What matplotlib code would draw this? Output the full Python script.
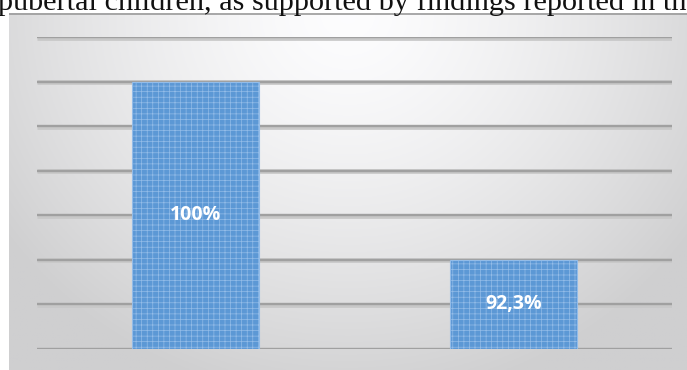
import numpy as np
import matplotlib
matplotlib.use('Agg')
import matplotlib.pyplot as plt

# datos del grafico
categorias = ['A', 'B']
valores = [100, 92.3]
etiquetas = ['100%', '92,3%']
texto_arriba = 'pubertal children, as supported by findings reported in th'

plt.rcParams['hatch.linewidth'] = 0.5

fig = plt.figure(figsize=(6.87, 3.70), dpi=100)
fig.patch.set_facecolor('white')

# texto del documento cortado arriba
fig.text(-0.003, 1 - 10 / 370, texto_arriba, family='Liberation Serif',
         fontsize=21.8, color='#111111', ha='left', va='baseline')

# fondo con degradado radial
bg = fig.add_axes([9 / 687, 0, 1 - 9 / 687, (370 - 13) / 370])
ny, nx = 200, 400
xx, yy = np.meshgrid(np.linspace(0, 1, nx), np.linspace(0, 1, ny))
r = np.sqrt(((xx - 0.5) / 0.62) ** 2 + (yy / 1.1) ** 2)
r = np.clip(r, 0, 1)
val = (253 - (253 - 207) * r ** 1.4) / 255
img = np.dstack([val, val, val * 1.005])
img = np.clip(img, 0, 1)
bg.imshow(img, aspect='auto', extent=[0, 1, 1, 0])
bg.set_xlim(0, 1)
bg.set_ylim(1, 0)
bg.axis('off')
bg.add_line(plt.Line2D([0, 1], [0.002, 0.002], color='#9a9a9a', lw=1.2))

# area del grafico
ax = fig.add_axes([37 / 687, 21 / 370, 635 / 687, 312 / 370])
ax.patch.set_alpha(0)

paso = (valores[0] - valores[1]) / 4
base = valores[1] - 2 * paso
ax.set_ylim(base, base + 7 * paso)
ax.set_xlim(-0.5, len(categorias) - 0.5)
ticks = [base + i * paso for i in range(8)]
for t in ticks:
    ax.axhline(t - paso * 0.012, color='#c8c8c8', lw=3.4, zorder=1, solid_capstyle='butt')
    ax.axhline(t, color='#a0a0a0', lw=1.7, zorder=1.5, solid_capstyle='butt')

x = np.arange(len(categorias))
bars = ax.bar(x, np.array(valores) - base, bottom=base, width=0.4,
              color='#5c98d5', edgecolor='#93bce8', linewidth=0.8,
              hatch='+++', zorder=3)

for b, lab in zip(bars, etiquetas):
    ax.text(b.get_x() + b.get_width() / 2, base + b.get_height() / 2, lab,
            ha='center', va='center', color='white', fontsize=14,
            fontweight='bold', family='Open Sans', zorder=4)

ax.set_xticks([])
ax.set_yticks([])
for s in ax.spines.values():
    s.set_visible(False)

fig.savefig('out.png', dpi=100)
